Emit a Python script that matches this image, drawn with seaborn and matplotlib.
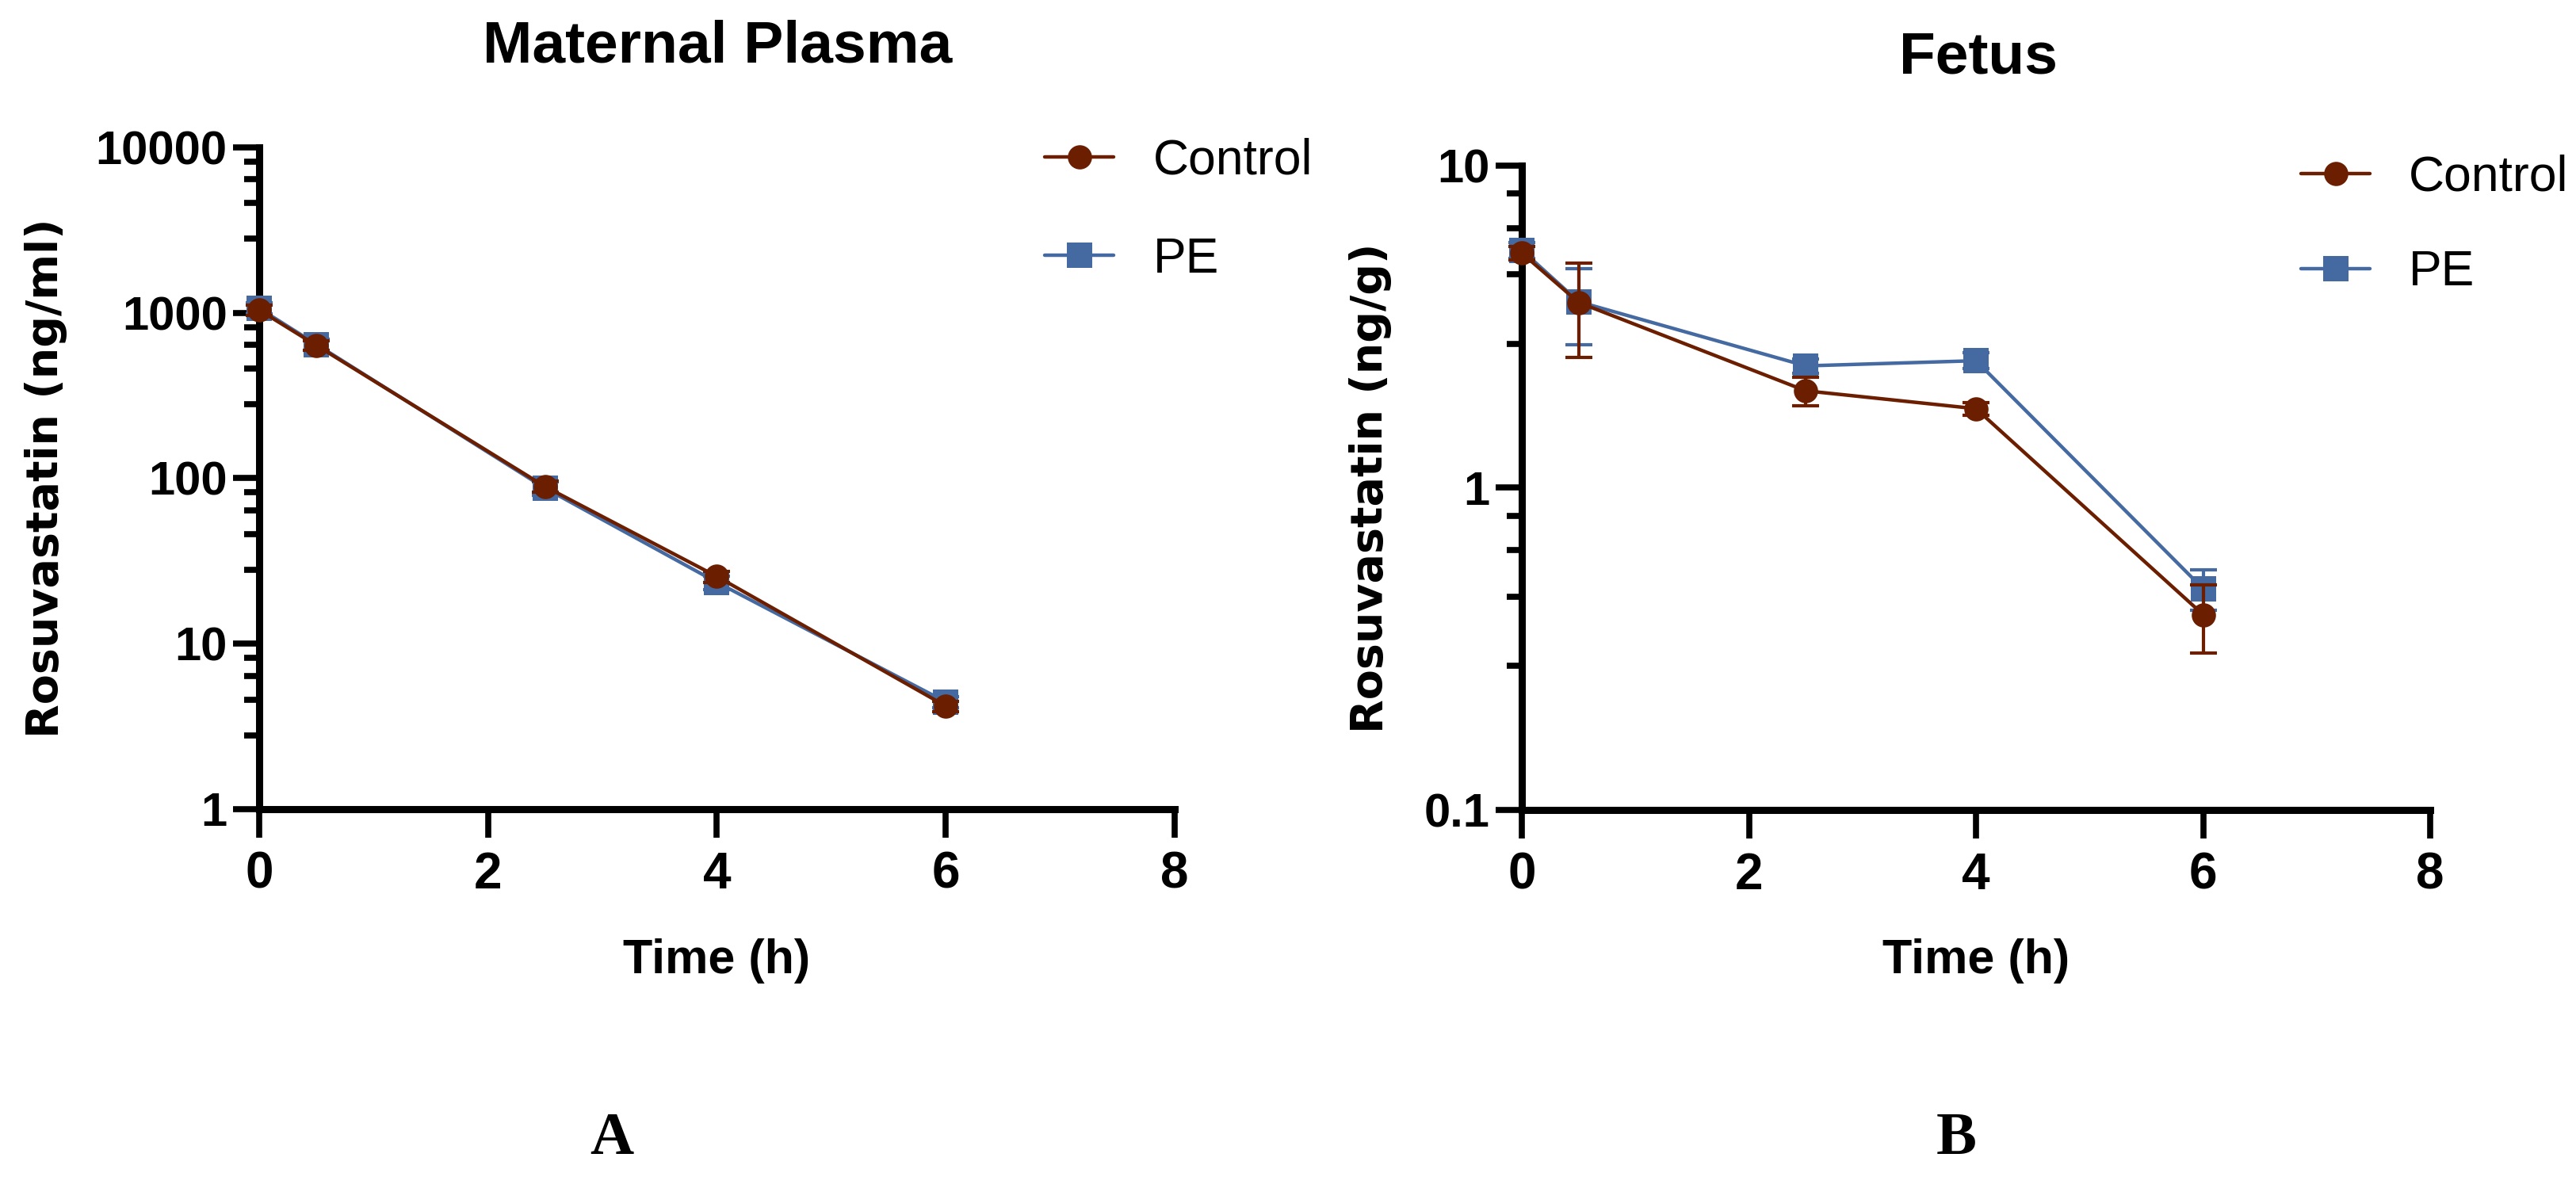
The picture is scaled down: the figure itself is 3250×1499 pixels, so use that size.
import seaborn as sns
import matplotlib
matplotlib.use("Agg")
from matplotlib import pyplot as plt
import matplotlib.ticker as mtick

# hours after dosing
time_h = [0, 0.5, 2.5, 4, 6]

# maternal plasma (ng/ml), mean and SEM
plasma_control = [1040, 636, 89, 25.5, 4.2]
plasma_control_sem = [70, 45, 7, 2, 0.3]
plasma_pe = [1065, 645, 87, 23.5, 4.45]
plasma_pe_sem = [80, 50, 8, 2.2, 0.35]

# fetus (ng/g), mean and SEM
fetus_control = [5.35, 3.76, 2.0, 1.76, 0.404]
fetus_control_sem = [0.25, 1.22, 0.2, 0.08, 0.097]
fetus_pe = [5.46, 3.78, 2.39, 2.48, 0.486]
fetus_pe_sem = [0.3, 1.0, 0.12, 0.14, 0.07]

groups = ["Control", "PE"]
colors = {"Control": "#6B1E00", "PE": "#456AA1"}
markers = {"Control": "o", "PE": "s"}
marker_sizes = {"Control": 22, "PE": 23}

plasma_ticks = [1, 10, 100, 1000, 10000]
plasma_ticklabels = ["1", "10", "100", "1000", "10000"]
fetus_ticks = [0.1, 1, 10]
fetus_ticklabels = ["0.1", "1", "10"]
minor_steps = [2.8, 4.6, 6.4, 8.2]
x_ticks = [0, 2, 4, 6, 8]

sns.set_style("ticks")
plt.rcParams["font.family"] = ["Liberation Sans", "DejaVu Sans"]
plt.rcParams["font.weight"] = "bold"
plt.rcParams["text.color"] = "black"
plt.rcParams["axes.labelcolor"] = "black"
plt.rcParams["xtick.color"] = "black"
plt.rcParams["ytick.color"] = "black"

fig = plt.figure(figsize=(32.5, 14.99), dpi=100)
ax_a = fig.add_axes([0.1006, 0.3189, 0.3554, 0.557])
ax_b = fig.add_axes([0.5908, 0.3182, 0.3526, 0.5424])


def draw_panel(ax, series, ylim, yticks, yticklabels, ylabel, ylabel_x, xlabel_y):
    handles = {}
    # PE first so the Control markers sit on top
    for name in ["PE", "Control"]:
        mean, sem = series[name]
        sns.lineplot(x=time_h, y=mean, ax=ax, color=colors[name], marker=markers[name],
                     markersize=marker_sizes[name], markeredgewidth=0, linewidth=3.2,
                     errorbar=None, clip_on=False, zorder=4)
        handles[name] = ax.lines[-1]
        ax.errorbar(time_h, mean, yerr=sem, fmt="none", ecolor=colors[name],
                    elinewidth=3, capsize=12, capthick=3, zorder=4, clip_on=False)

    ax.set_yscale("log")
    ax.set_ylim(*ylim)
    ax.set_xlim(0, 8)
    ax.xaxis.set_major_locator(mtick.FixedLocator(x_ticks))
    ax.yaxis.set_major_locator(mtick.FixedLocator(yticks))
    ax.yaxis.set_major_formatter(mtick.FixedFormatter(yticklabels))
    minors = [m * t for t in yticks[:-1] for m in minor_steps]
    ax.yaxis.set_minor_locator(mtick.FixedLocator(minors))
    ax.yaxis.set_minor_formatter(mtick.NullFormatter())
    ax.xaxis.set_minor_locator(mtick.NullLocator())

    for side in ["top", "right"]:
        ax.spines[side].set_visible(False)
    for side in ["left", "bottom"]:
        ax.spines[side].set_linewidth(6.5)
        ax.spines[side].set_color("black")

    ax.tick_params(axis="y", which="major", length=24, width=5.5, pad=5,
                   labelsize=43, color="black", labelcolor="black")
    ax.tick_params(axis="y", which="minor", length=14, width=5.5, color="black")
    ax.tick_params(axis="x", which="major", length=26, width=5.5, pad=12,
                   labelsize=46, color="black", labelcolor="black")
    for lab in ax.get_xticklabels() + ax.get_yticklabels():
        lab.set_fontweight("bold")

    ax.set_xlabel("Time (h)", fontsize=44, fontweight="bold", color="black")
    ax.xaxis.label.set_va("baseline")
    ax.xaxis.set_label_coords(0.5, xlabel_y)
    ax.set_ylabel(ylabel, fontsize=40, fontweight="bold", family=["DejaVu Sans"],
                  color="black")
    ax.yaxis.label.set_va("center")
    ax.yaxis.set_label_coords(ylabel_x, 0.5)
    return handles


h_a = draw_panel(ax_a, {"Control": (plasma_control, plasma_control_sem),
                        "PE": (plasma_pe, plasma_pe_sem)},
                 (1, 10000), plasma_ticks, plasma_ticklabels,
                 "Rosuvastatin (ng/ml)", -0.233, -0.248)
h_b = draw_panel(ax_b, {"Control": (fetus_control, fetus_control_sem),
                        "PE": (fetus_pe, fetus_pe_sem)},
                 (0.1, 10), fetus_ticks, fetus_ticklabels,
                 "Rosuvastatin (ng/g)", -0.167, -0.253)

leg_props = {"family": "Liberation Sans", "weight": "normal", "size": 45}
ax_a.legend([h_a[g] for g in groups], groups, loc="upper left",
            bbox_to_anchor=(0.4055, 0.884), bbox_transform=fig.transFigure,
            frameon=False, prop=leg_props, handlelength=1.4, handletextpad=0.8,
            labelspacing=1.04, borderpad=0, borderaxespad=0, labelcolor="black")
ax_b.legend([h_b[g] for g in groups], groups, loc="upper left",
            bbox_to_anchor=(0.8932, 0.870), bbox_transform=fig.transFigure,
            frameon=False, prop=leg_props, handlelength=1.4, handletextpad=0.78,
            labelspacing=0.97, borderpad=0, borderaxespad=0, labelcolor="black")

fig.text(0.2785, 0.9476, "Maternal Plasma", ha="center", va="baseline",
         fontsize=54, fontweight="bold")
fig.text(0.768, 0.9382, "Fetus", ha="center", va="baseline",
         fontsize=54, fontweight="bold")

fig.text(0.2375, 0.029, "A", ha="center", va="baseline", fontsize=55,
         fontweight="bold", family=["Liberation Serif"])
fig.text(0.7594, 0.029, "B", ha="center", va="baseline", fontsize=55,
         fontweight="bold", family=["Liberation Serif"])

fig.savefig("out.png", dpi=100, facecolor="white")
